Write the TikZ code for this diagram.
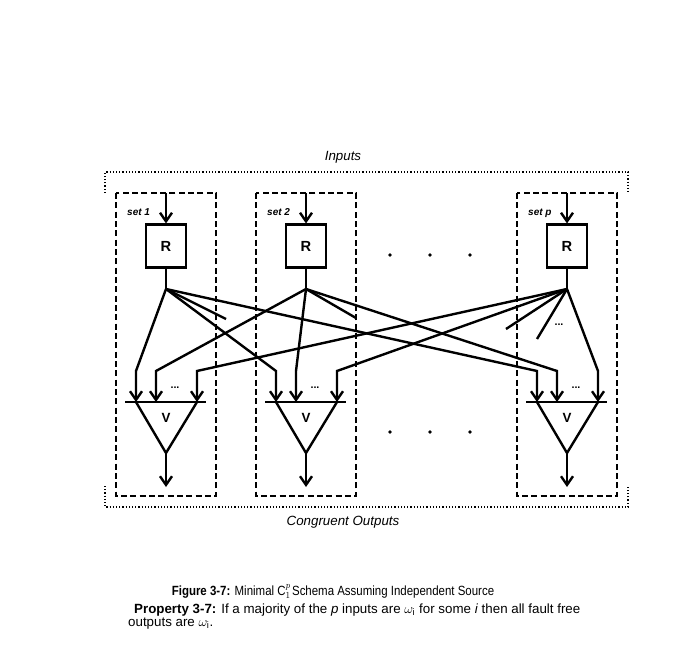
\documentclass[tikz,border=0pt]{standalone}
\usepackage{graphicx}
\usepackage{fontspec}
\setmainfont{Liberation Sans}
\usetikzlibrary{arrows.meta}

\begin{document}
\begin{tikzpicture}[x=0.75pt, y=-0.75pt, >={Straight Barb[length=6.5pt,width=9pt]}, line width=1.8pt,
    rbox/.style={draw, minimum width=30pt, minimum height=32pt, inner sep=0pt, font=\fontsize{11}{13}\selectfont\bfseries},
    setbox/.style={line width=1.1pt, dash pattern=on 4.5pt off 2.5pt},
    outer/.style={line width=0.9pt, dash pattern=on 0.9pt off 1.5pt},
    lbl/.style={font=\fontsize{10}{12}\selectfont\itshape},
    setlbl/.style={font=\fontsize{7.5}{9}\selectfont\bfseries\itshape, inner sep=0pt},
    caption/.style={font=\fontsize{10}{12}\selectfont, inner sep=0pt}]

    \useasboundingbox (0,0) rectangle (682,660);

    \node[lbl] (inputs) at (343,157) {Inputs};
    \node[lbl] (outputs) at (343,522) {Congruent Outputs};
    \draw[outer] (105,193) -- (105,172) -- (628,172) -- (628,193);
    \draw[outer] (105,486) -- (105,507) -- (628,507) -- (628,486);

    \foreach \k/\cx in {1/166, 2/306, p/567} {
        \draw[setbox] (\cx-50,193) rectangle (\cx+50,496);
        \node[setlbl, anchor=base west] (lab\k) at (\cx-40,215) {set \k};
        \coordinate (top\k) at (\cx,193);
        \node[rbox] (R\k) at (\cx,246) {R};
        \coordinate (f\k) at (\cx,289);
        \coordinate (b\k) at (\cx,402);
        \coordinate (in\k-1) at (\cx-30,371);
        \coordinate (in\k-2) at (\cx-10,371);
        \coordinate (in\k-3) at (\cx+31,371);
        \coordinate (apex\k) at (\cx,453);
        \coordinate (end\k) at (\cx,487);
        \draw[->] (top\k) -- (R\k.north);
        \draw (R\k) -- (f\k);
        \draw (\cx-41,402) -- (\cx+40,402);
        \draw (\cx-30,402) -- (apex\k) -- (\cx+31,402);
        \node[font=\fontsize{10}{12}\selectfont\bfseries] (V\k) at (\cx,418) {V};
        \node[font=\footnotesize\bfseries] (dots\k) at (\cx+9,388) {...};
        \draw[->] (apex\k) -- (end\k);
    }

    \coordinate (s1) at (226,319);
    \coordinate (s2) at (356,318);
    \coordinate (sp-1) at (506,329);
    \coordinate (sp-2) at (537,339);
    \draw (f1) -- (s1);
    \draw (f2) -- (s2);
    \draw (fp) -- (sp-1);
    \draw (fp) -- (sp-2);
    \node[font=\footnotesize\bfseries] (fandots) at (559,325) {...};

    \foreach \v in {1,2,p} {
        \draw[->] (f1) -- (in\v-1) -- (in\v-1 |- b\v);
        \draw[->] (f2) -- (in\v-2) -- (in\v-2 |- b\v);
        \draw[->] (fp) -- (in\v-3) -- (in\v-3 |- b\v);
    }

    \foreach \x in {390,430,470} {
        \fill (\x,255) circle (1.4pt);
        \fill (\x,432) circle (1.4pt);
    }

    \node[caption, anchor=base] (fig) at (333,595) {\scalebox{0.86}[1]{\textbf{Figure 3-7:} Minimal C$^{p}_{1}$\kern1pt Schema Assuming Independent Source}};
    \node[caption, anchor=base west] (prop) at (133,613) {\textbf{Property 3-7:} If a majority of the \textit{p} inputs are $\omega_{\mathrm{i}}$ for some \textit{i} then all fault free};
    \node[caption, anchor=base west] (prop2) at (127,626) {outputs are $\omega_{\mathrm{i}}$.};
\end{tikzpicture}
\end{document}
